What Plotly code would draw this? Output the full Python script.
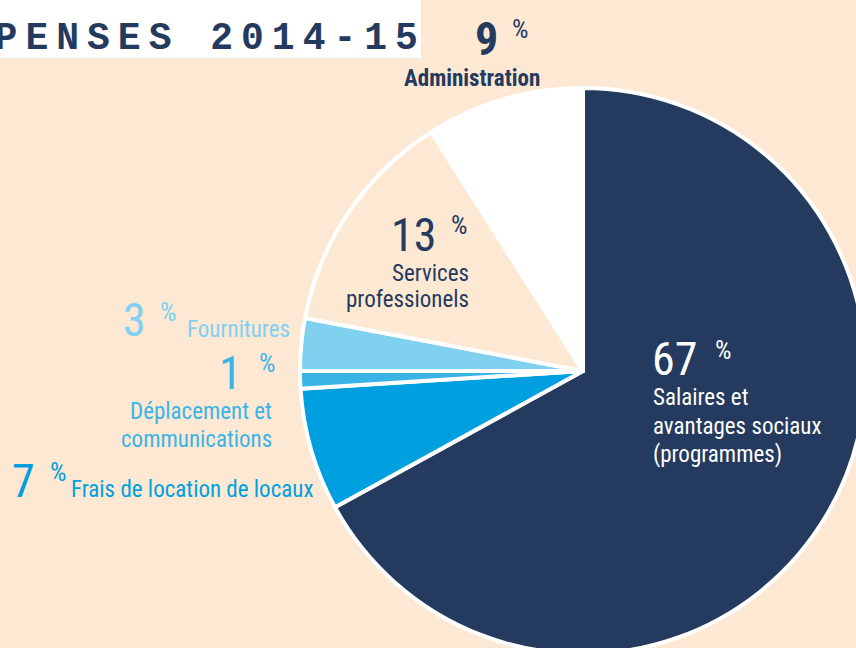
import plotly.graph_objects as go

# ---- data ----
categories = ["Salaires et avantages sociaux (programmes)", "Frais de location de locaux",
              "Déplacement et communications", "Fournitures", "Services professionels", "Administration"]
values = [67, 7, 1, 3, 13, 9]
label_lines = [["Salaires et", "avantages sociaux", "(programmes)"],
               ["Frais de location de locaux"],
               ["Déplacement et", "communications"],
               ["Fournitures"],
               ["Services", "professionels"],
               ["Administration"]]
title_text = "DÉPENSES 2014-15"

# ---- styles ----
slice_colors = ["#243A5E", "#009FDF", "#3AB4E6", "#80D0F0", "#FDE8D3", "#FFFFFF"]
label_colors = ["#FFFFFF", "#009FDF", "#3AB4E6", "#80D0F0", "#243A5E", "#243A5E"]
BG = "#FDE8D3"
FONT = "Roboto Condensed, Liberation Sans, sans-serif"

W, H = 870, 660
CX, CY, R = 583, 371, 283

def px(x):
    return x / W

def py(y):
    return 1 - y / H

fig = go.Figure()
fig.add_trace(go.Pie(
    labels=categories, values=values, sort=False, direction="clockwise", rotation=0,
    marker=dict(colors=slice_colors, line=dict(color="white", width=4)),
    textinfo="none", hoverinfo="label+percent", showlegend=False,
    domain=dict(x=[px(CX - R), px(CX + R)], y=[py(CY + R), py(CY - R)]),
))

# label layout: (number cx, number cy, % cx, % cy, text anchor, text x, first line y, line step, bold)
label_pos = [
    (674, 358.5, 723, 350, "left", 652, 397.7, 28.5, False),
    (23, 480.5, 58, 472, "left", 70, 489.7, 28, False),
    (231, 372.5, 267, 363, "right", 273, 411.7, 28, False),
    (134, 320, 168, 312, "left", 186, 329.7, 28, False),
    (413.5, 235, 459, 225, "right", 470, 273.7, 25.5, False),
    (486, 38.5, 520, 28.5, "center", 472, 79, 28, True),
]

annotations = []
for v, lines, col, pos in zip(values, label_lines, label_colors, label_pos):
    nx, ny, qx, qy, anc, tx, ty, step, bold = pos
    num = f"<b>{v}</b>" if bold else f"{v}"
    annotations.append(dict(x=px(nx), y=py(ny), xref="paper", yref="paper", text=num,
                            showarrow=False, xanchor="center", yanchor="middle", borderpad=0,
                            font=dict(family=FONT, size=46, color=col)))
    annotations.append(dict(x=px(qx), y=py(qy), xref="paper", yref="paper", text="%",
                            showarrow=False, xanchor="center", yanchor="middle", borderpad=0,
                            font=dict(family=FONT, size=26, color=col)))
    for i, ln in enumerate(lines):
        t = f"<b>{ln}</b>" if bold else ln
        annotations.append(dict(x=px(tx), y=py(ty + i * step), xref="paper", yref="paper", text=t,
                                showarrow=False, xanchor=anc, yanchor="middle", borderpad=0,
                                font=dict(family=FONT, size=23, color=col)))

# title (partly cut off at the left edge, as in the reference)
annotations.append(dict(x=px(427), y=py(38), xref="paper", yref="paper",
                        text=f'<b><span style="letter-spacing:8px">{title_text}</span></b>',
                        showarrow=False, xanchor="right", yanchor="middle", borderpad=0,
                        font=dict(family="Liberation Mono, DejaVu Sans Mono, monospace", size=38,
                                  color="#243A5E")))

fig.update_layout(
    width=W, height=H, margin=dict(l=0, r=0, t=0, b=0),
    paper_bgcolor=BG, plot_bgcolor=BG,
    annotations=annotations,
    shapes=[dict(type="rect", xref="paper", yref="paper", x0=px(-10), x1=px(421), y0=py(58), y1=py(-10),
                 fillcolor="white", line=dict(width=0), layer="below")],
)

fig.write_html("out.html", config={"displayModeBar": False},
               post_script="document.body.style.margin='0';document.body.style.overflow='hidden';")
